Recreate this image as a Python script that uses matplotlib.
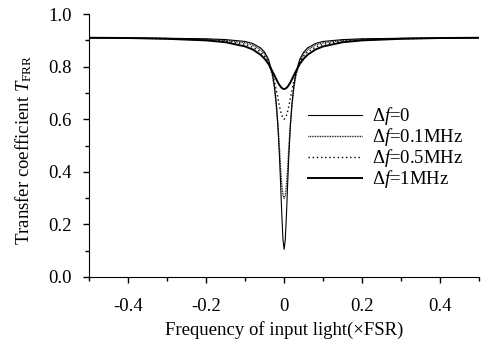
import matplotlib
matplotlib.use("Agg")
import matplotlib.pyplot as plt
from matplotlib.ticker import FixedLocator, FixedFormatter

plt.rcParams["font.family"] = ["Liberation Serif", "DejaVu Serif"]
plt.rcParams["mathtext.fontset"] = "custom"
plt.rcParams["mathtext.rm"] = "Liberation Serif"
plt.rcParams["mathtext.it"] = "Liberation Serif:italic"

# frequency offset (x FSR), positive half
x_half = [0.0, 0.003, 0.006, 0.009, 0.012, 0.016, 0.02, 0.025, 0.03, 0.04,
          0.05, 0.06, 0.08, 0.1, 0.15, 0.2, 0.3, 0.4, 0.5]

# transfer coefficient for each linewidth (same order as x_half)
t_0 = [0.105, 0.143, 0.238, 0.353, 0.46, 0.575, 0.658, 0.728, 0.775, 0.828,
       0.855, 0.871, 0.888, 0.896, 0.903, 0.906, 0.908, 0.909, 0.91]
t_01 = [0.30, 0.31, 0.35, 0.41, 0.49, 0.58, 0.65, 0.72, 0.765, 0.82,
        0.848, 0.864, 0.882, 0.891, 0.90, 0.904, 0.907, 0.909, 0.91]
t_05 = [0.60, 0.605, 0.615, 0.63, 0.65, 0.68, 0.71, 0.745, 0.772, 0.815,
        0.84, 0.856, 0.874, 0.885, 0.897, 0.902, 0.906, 0.909, 0.91]
t_1 = [0.715, 0.716, 0.719, 0.724, 0.73, 0.74, 0.752, 0.767, 0.782, 0.81,
       0.83, 0.845, 0.865, 0.877, 0.893, 0.90, 0.906, 0.909, 0.91]

labels = [r"$\Delta f$=0", r"$\Delta f$=0.1MHz", r"$\Delta f$=0.5MHz", r"$\Delta f$=1MHz"]
xticks = [-0.4, -0.2, 0, 0.2, 0.4]
xtick_labels = ["-0.4", "-0.2", "0", "0.2", "0.4"]
yticks = [0, 0.2, 0.4, 0.6, 0.8, 1.0]
ytick_labels = ["0.0", "0.2", "0.4", "0.6", "0.8", "1.0"]


def both_sides(vals, neg=False):
    left = [-v for v in vals[::-1]] if neg else vals[::-1]
    return left[:-1] + vals


x = both_sides(x_half, neg=True)

fig = plt.figure(figsize=(4.95, 3.44), dpi=100)
ax = fig.add_axes([0.18, 0.195, 0.788, 0.764])

ax.plot(x, both_sides(t_0), color="black", lw=0.8, label=labels[0])
ax.plot(x, both_sides(t_01), color="black", lw=1.0, linestyle=(0, (0.6, 0.6)), label=labels[1])
ax.plot(x, both_sides(t_05), color="black", lw=1.0, linestyle=(0, (1, 2)), label=labels[2])
ax.plot(x, both_sides(t_1), color="black", lw=1.4, label=labels[3])

ax.set_xlim(-0.5, 0.5)
ax.set_ylim(0, 1.0)

ax.spines["top"].set_visible(False)
ax.spines["right"].set_visible(False)

ax.xaxis.set_major_locator(FixedLocator(xticks))
ax.xaxis.set_major_formatter(FixedFormatter(xtick_labels))
ax.xaxis.set_minor_locator(FixedLocator([-0.5, -0.3, -0.1, 0.1, 0.3, 0.5]))
ax.yaxis.set_major_locator(FixedLocator(yticks))
ax.yaxis.set_major_formatter(FixedFormatter(ytick_labels))
ax.yaxis.set_minor_locator(FixedLocator([0.1, 0.3, 0.5, 0.7, 0.9]))

ax.tick_params(axis="both", which="major", direction="out", length=4.5, width=1, labelsize=13.5)
ax.tick_params(axis="both", which="minor", direction="out", length=3, width=1)
ax.tick_params(axis="x", which="major", pad=11)
ax.tick_params(axis="y", which="major", pad=8)

ax.set_xlabel("Frequency of input light(×FSR)", fontsize=13.5)
ax.set_ylabel(r"Transfer coefficient $T_{\rm FRR}$", fontsize=13.5)
ax.xaxis.set_label_coords(0.5, -0.168)
ax.yaxis.set_label_coords(-0.14, 0.483)

ax.legend(loc="upper left", bbox_to_anchor=(0.622, 0.694), bbox_transform=fig.transFigure,
          frameon=False, fontsize=13.5, handlelength=2.9, handletextpad=0.5,
          labelspacing=-0.05, borderpad=0, borderaxespad=0)

fig.savefig("out.png", dpi=100)
